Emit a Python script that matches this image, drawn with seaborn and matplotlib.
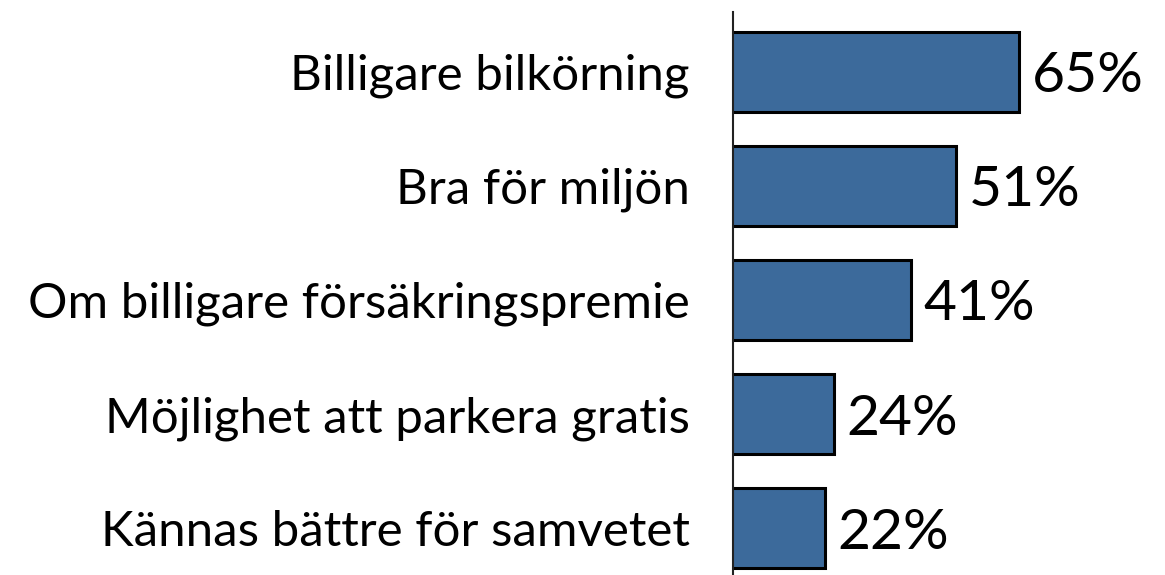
import matplotlib
matplotlib.use("Agg")
import matplotlib.pyplot as plt
import seaborn as sns

categories = [
    "Billigare bilkörning",
    "Bra för miljön",
    "Om billigare försäkringspremie",
    "Möjlighet att parkera gratis",
    "Kännas bättre för samvetet",
]
values = [65, 51, 41, 24, 22]
value_labels = ["65%", "51%", "41%", "24%", "22%"]

sns.set_style("white")
plt.rcParams["font.family"] = ["Lato", "DejaVu Sans"]

fig = plt.figure(figsize=(11.65, 5.75), dpi=100)
ax = fig.add_axes([733 / 1165, -13 / 575, 432 / 1165, 576 / 575])

sns.barplot(x=values, y=categories, orient="h", color="#3c6a9b",
            saturation=1, edgecolor="black", linewidth=2.2, width=0.7, ax=ax)

# value labels next to each bar end
for i, (v, lbl) in enumerate(zip(values, value_labels)):
    ax.annotate(lbl, xy=(v, i), xytext=(9, 0), textcoords="offset points",
                ha="left", va="center_baseline", fontsize=41, color="black")

ax.set_xlim(1.8, 97.1)
ax.set_ylim(4.526, -0.526)
ax.set_xlabel("")
ax.set_ylabel("")
ax.set_xticks([])
ax.tick_params(axis="y", length=0, pad=31, labelsize=35.5, labelcolor="black")

for side in ["top", "right", "bottom"]:
    ax.spines[side].set_visible(False)
ax.spines["left"].set_color("#222222")
ax.spines["left"].set_linewidth(1.5)

fig.savefig("out.png", dpi=100)
plt.close(fig)
